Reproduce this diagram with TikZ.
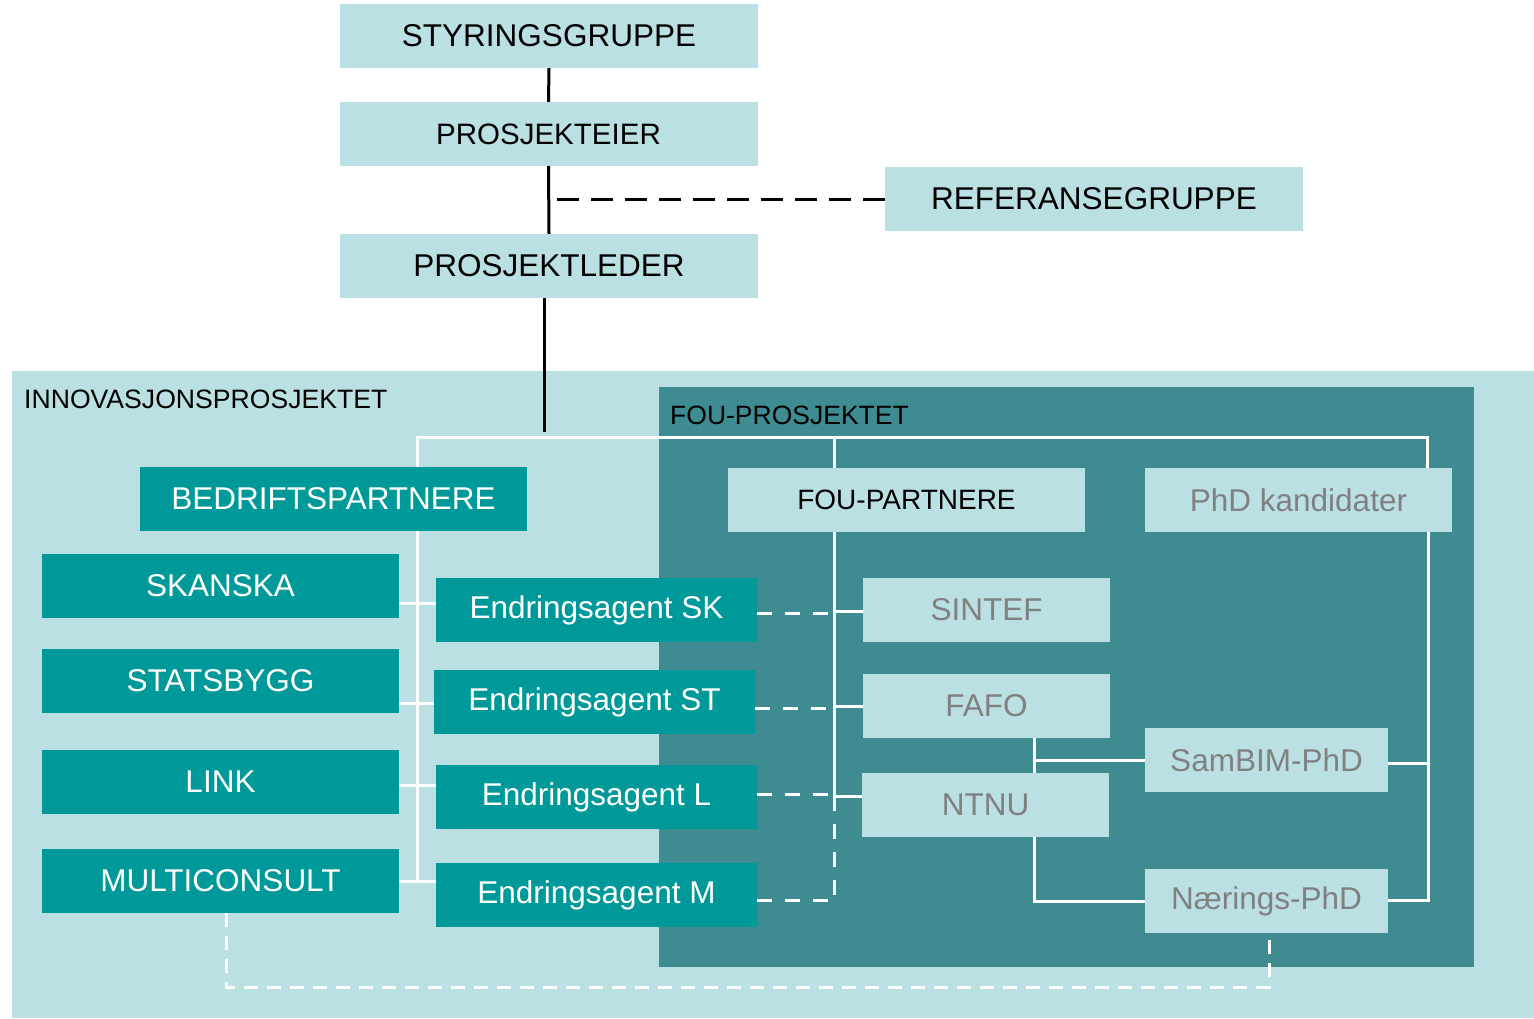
\documentclass[tikz,border=0pt]{standalone}
\usepackage{fontspec}
\setmainfont{Liberation Sans}
\usetikzlibrary{calc}
\definecolor{lysblaa}{RGB}{186,224,227}
\definecolor{turkis}{RGB}{0,153,153}
\definecolor{morkturkis}{RGB}{62,139,146}
\definecolor{graatekst}{RGB}{128,128,128}

\begin{document}
\begin{tikzpicture}[x = 1pt, y = -1pt]
	\tikzset{boks/.style = {rectangle, inner sep = 0pt, minimum height = 64, font = \fontsize{31.5}{36}\selectfont}}
	\tikzset{ledelse/.style = {boks, fill = lysblaa, minimum width = 418}}
	\tikzset{bedrift/.style = {boks, fill = turkis, text = white, minimum width = 357}}
	\tikzset{agent/.style = {boks, fill = turkis, text = white, minimum width = 321}}
	\tikzset{forsker/.style = {boks, fill = lysblaa, text = graatekst}}
	\tikzset{hvit/.style = {white, line width = 3pt}}
	\tikzset{stiplet/.style = {hvit, dash pattern = on 15pt off 13pt}}

\useasboundingbox (0,0) rectangle (1534,1018);

%% Areas
\draw (773,694.5) node[name = innov, fill = lysblaa, inner sep = 0pt, minimum width = 1522, minimum height = 647]{};
\draw (1066.5,677) node[name = fou, fill = morkturkis, inner sep = 0pt, minimum width = 815, minimum height = 580]{};
\draw (24,408) node[name = innovtekst, anchor = base west, inner sep = 0pt, font = \fontsize{26.6}{30}\selectfont]{INNOVASJONSPROSJEKTET};
\draw (670,424) node[name = foutekst, anchor = base west, inner sep = 0pt, font = \fontsize{26.5}{30}\selectfont]{FOU-PROSJEKTET};

%% Management
\draw (549,36) node[ledelse, name = styr]{STYRINGSGRUPPE};
\draw (548.5,134) node[ledelse, name = eier, font = \fontsize{29.5}{34}\selectfont]{PROSJEKTEIER};
\draw (1094,199) node[ledelse, name = ref]{REFERANSEGRUPPE};
\draw (549,266) node[ledelse, name = leder]{PROSJEKTLEDER};

%% Company partners
\draw (333.5,499) node[boks, fill = turkis, text = white, minimum width = 387, name = bedrift]{BEDRIFTSPARTNERE};
\draw (220.5,586) node[bedrift, name = skanska]{SKANSKA};
\draw (220.5,681) node[bedrift, name = statsbygg]{STATSBYGG};
\draw (220.5,782) node[bedrift, name = link]{LINK};
\draw (220.5,881) node[bedrift, name = multi]{MULTICONSULT};

%% Change agents
\draw (596.5,610) node[agent, name = agentsk]{Endringsagent SK};
\draw (594.5,702) node[agent, name = agentst]{Endringsagent ST};
\draw (596.5,797) node[agent, name = agentl]{Endringsagent L};
\draw (596.5,895) node[agent, name = agentm]{Endringsagent M};

%% Research partners
\draw (906.5,500) node[boks, fill = lysblaa, minimum width = 357, font = \fontsize{28}{32}\selectfont, name = foupart]{FOU-PARTNERE};
\draw (1298.5,500) node[forsker, minimum width = 307, name = phd]{PhD kandidater};
\draw (986.5,610) node[forsker, minimum width = 247, name = sintef]{SINTEF};
\draw (986.5,706) node[forsker, minimum width = 247, name = fafo]{FAFO};
\draw (985.5,805) node[forsker, minimum width = 247, name = ntnu]{NTNU};
\draw (1266.5,760) node[forsker, minimum width = 243, name = sambim]{SamBIM-PhD};
\draw (1266.5,901) node[forsker, minimum width = 243, name = naerings]{Nærings-PhD};

%% Edges, management
\draw[line width = 3pt] (styr.south) -- (eier.north);
\draw[line width = 3pt] (eier.south) -- (leder.north);
\draw[line width = 3pt, dash pattern = on 22pt off 12pt] (ref.west) -- ++(-328,0);
\draw[line width = 3pt] (leder.south -| 544,0) -- (544,432);

%% Edges, white tree
\coordinate (venstre) at (417,437);
\coordinate (midt) at (834,437);
\coordinate (hoyre) at (1427,437);
\draw[hvit] (venstre |- bedrift.north) -- (venstre) -- (hoyre) -- (hoyre |- phd.north);
\draw[hvit] (midt) -- (midt |- foupart.north);
\draw[hvit] (venstre |- bedrift.south) -- (417,881);
\foreach \firma/\agent/\y in {skanska/agentsk/603, statsbygg/agentst/703, link/agentl/785, multi/agentm/881}
	\draw[hvit] (\firma.east |- 0,\y) -- (\agent.west |- 0,\y);

\foreach \agent/\y in {agentsk/613, agentst/708, agentl/794, agentm/900}
	\draw[stiplet] (\agent.east |- 0,\y) -- (834,\y);
\draw[hvit] (midt |- foupart.south) -- (834,796);
\draw[stiplet] (834,796) -- (834,900);
\foreach \partner/\y in {sintef/611, fafo/706, ntnu/796}
	\draw[hvit] (834,\y) -- (\partner.west |- 0,\y);

\draw[hvit] (fafo.south -| 1034,0) -- (ntnu.north -| 1034,0);
\draw[hvit] (sambim.west -| 1034,0) -- (sambim.west);
\draw[hvit] (ntnu.south -| 1034,0) |- (naerings.west);
\draw[hvit] (phd.south -| 1428,0) -- (1428,900) -- (naerings.east |- 0,900);
\draw[hvit] (sambim.east |- 0,763) -- (1428,763);

\draw[hvit, dash pattern = on 14pt off 9pt] (multi.south -| 226,0) -- (226,987) -- (1269,987) -- (naerings.south -| 1269,0);
\end{tikzpicture}
\end{document}
